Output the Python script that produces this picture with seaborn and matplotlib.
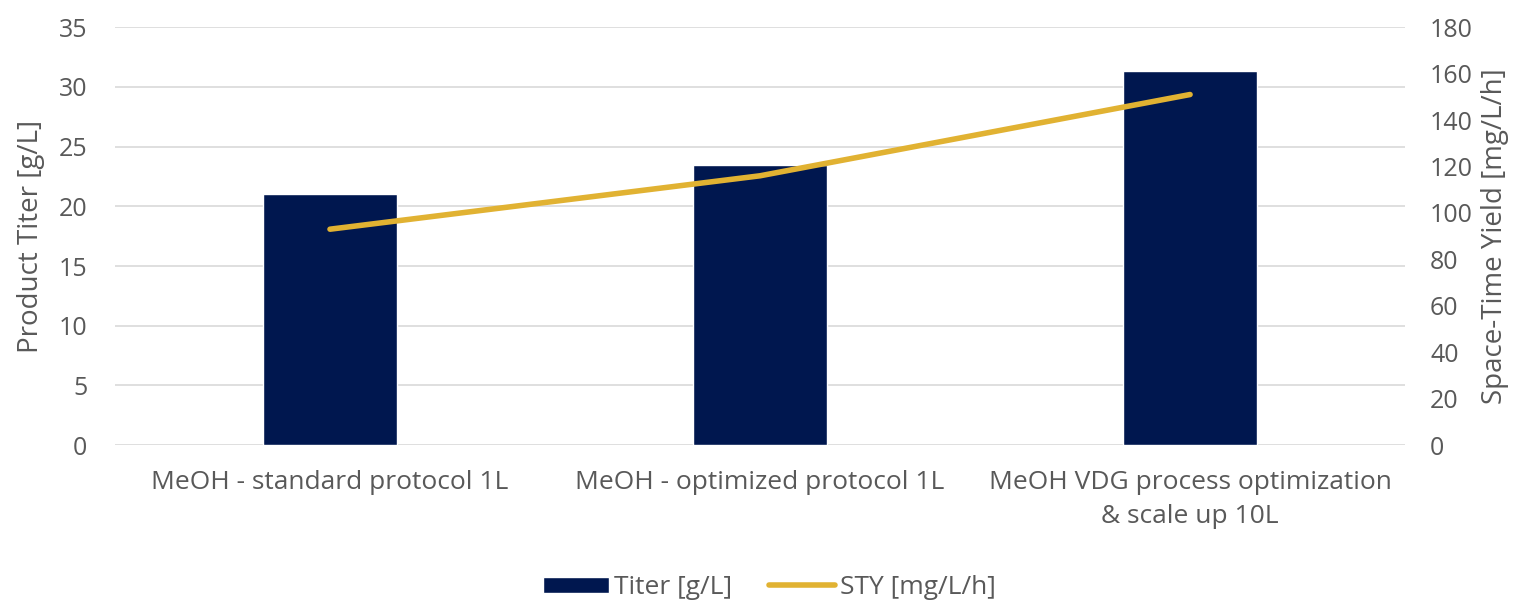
import pandas as pd
import seaborn as sns
import matplotlib.pyplot as plt

# Data
categories = ["MeOH - standard protocol 1L",
              "MeOH - optimized protocol 1L",
              "MeOH VDG process optimization\n& scale up 10L"]
titer = [21.0, 23.5, 31.3]
sty = [93, 116, 151]

NAVY = "#00174F"
GOLD = "#E1B232"
GREY = "#595959"

sns.set_theme(style="white")
plt.rcParams['font.family'] = ['Open Sans', 'DejaVu Sans']

df = pd.DataFrame({"cat": categories, "titer": titer, "sty": sty})

fig = plt.figure(figsize=(15.39, 6.04), dpi=100)
ax = fig.add_axes([0.0747, 0.263, 0.8383, 0.692])

sns.barplot(data=df, x="cat", y="titer", color=NAVY, width=0.31,
            saturation=1, ax=ax, label="Titer [g/L]", zorder=2)
ax.set_ylim(0, 35)
ax.set_yticks(range(0, 36, 5))
ax.yaxis.grid(True, color="#D9D9D9", linewidth=1.2, zorder=0)
ax.set_axisbelow(True)
ax.set_xlim(-0.5, 2.5)
ax.set_xlabel("")
ax.set_ylabel("Product Titer [g/L]", fontsize=20, color=GREY, labelpad=10)
ax.tick_params(axis="y", colors=GREY, labelsize=18, length=0, pad=20)
ax.tick_params(axis="x", colors=GREY, labelsize=19, length=0, pad=18)
for lbl in ax.get_xticklabels():
    lbl.set_linespacing(1.45)
for s in ax.spines.values():
    s.set_visible(False)
if ax.get_legend() is not None:
    ax.get_legend().remove()

ax2 = ax.twinx()
sns.lineplot(data=df, x="cat", y="sty", color=GOLD, linewidth=4,
             ax=ax2, label="STY [mg/L/h]", solid_capstyle="round")
ax2.set_ylim(0, 180)
ax2.set_yticks(range(0, 181, 20))
ax2.set_ylabel("Space-Time Yield [mg/L/h]", fontsize=20, color=GREY, labelpad=6)
ax2.tick_params(axis="y", colors=GREY, labelsize=18, length=0, pad=18)
for s in ax2.spines.values():
    s.set_visible(False)
ax2.get_legend().remove()

h1, l1 = ax.get_legend_handles_labels()
h2, l2 = ax2.get_legend_handles_labels()
fig.legend(h1 + h2, l1 + l2, loc="center", bbox_to_anchor=(0.5, 0.027),
           ncol=2, frameon=False, fontsize=19, labelcolor=GREY,
           handlelength=2.5, handleheight=0.6, columnspacing=1.4, handletextpad=0.2)

fig.savefig("out.png", dpi=100)
